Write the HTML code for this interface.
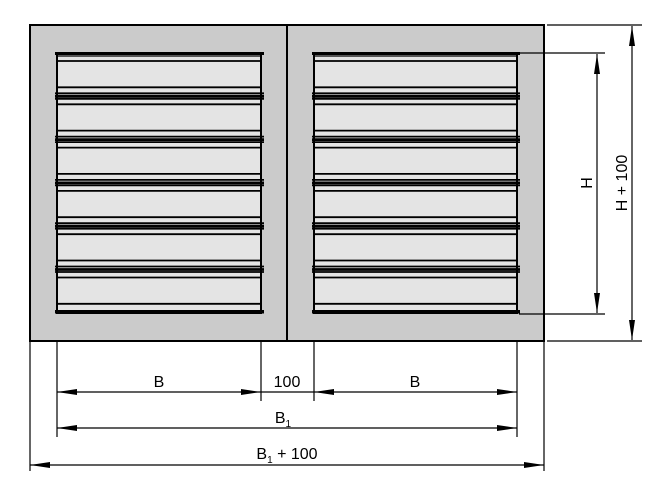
<!DOCTYPE html>
<html><head><meta charset="utf-8"><style>html,body{margin:0;padding:0;background:#fff}svg{display:block}text{font-family:"Liberation Sans",Arial,sans-serif;font-size:16px;fill:#000}</style></head>
<body>
<svg id="s" width="659" height="497" viewBox="0 0 659 497">
<defs><marker id="a" viewBox="0 0 20 6" refX="20" refY="3" markerWidth="20" markerHeight="6" markerUnits="userSpaceOnUse" orient="auto-start-reverse"><path d="M0,0L20,3L0,6z" fill="#000"/></marker></defs>
<rect x="30" y="25" width="514" height="316" fill="#cbcbcb" stroke="#000" stroke-width="2"/>
<line x1="287" y1="25" x2="287" y2="341" stroke="#000" stroke-width="2"/>
<rect x="57" y="53" width="204" height="260" fill="#e4e4e4" stroke="#000" stroke-width="2"/>
<rect x="314" y="53" width="203" height="260" fill="#e4e4e4" stroke="#000" stroke-width="2"/>
<g id="sl" stroke="#000"></g>
<g stroke="#000" stroke-width="1.2" fill="none">
<line x1="519" y1="53" x2="605" y2="53"/><line x1="519" y1="314" x2="605" y2="314"/>
<line x1="547" y1="25" x2="642" y2="25"/><line x1="547" y1="341" x2="642" y2="341"/>
<line x1="597" y1="54" x2="597" y2="313" marker-start="url(#a)" marker-end="url(#a)"/>
<line x1="632" y1="26" x2="632" y2="340" marker-start="url(#a)" marker-end="url(#a)"/>
<line x1="57" y1="342" x2="57" y2="437"/><line x1="517" y1="342" x2="517" y2="437"/>
<line x1="261" y1="342" x2="261" y2="401"/><line x1="314" y1="342" x2="314" y2="401"/>
<line x1="30" y1="342" x2="30" y2="471"/><line x1="544" y1="342" x2="544" y2="471"/>
<line x1="57" y1="392" x2="261" y2="392" marker-start="url(#a)" marker-end="url(#a)"/>
<line x1="261" y1="392" x2="314" y2="392"/>
<line x1="314" y1="392" x2="517" y2="392" marker-start="url(#a)" marker-end="url(#a)"/>
<line x1="57" y1="428" x2="517" y2="428" marker-start="url(#a)" marker-end="url(#a)"/>
<line x1="30" y1="465" x2="544" y2="465" marker-start="url(#a)" marker-end="url(#a)"/>
</g>
<text x="159" y="387" text-anchor="middle">B</text>
<text x="287" y="387" text-anchor="middle">100</text>
<text x="415" y="387" text-anchor="middle">B</text>
<text x="283" y="423" text-anchor="middle">B<tspan font-size="10" dy="4">1</tspan></text>
<text x="287" y="459" text-anchor="middle">B<tspan font-size="10" dy="4">1</tspan><tspan dy="-4"> + 100</tspan></text>
<text transform="translate(592,183) rotate(-90)" text-anchor="middle">H</text>
<text transform="translate(627,183) rotate(-90)" text-anchor="middle">H + 100</text>
</svg>
<script>
var g=document.getElementById('sl'),ns='http://www.w3.org/2000/svg';
function L(x1,x2,y,w){var l=document.createElementNS(ns,'line');l.setAttribute('x1',x1);l.setAttribute('x2',x2);l.setAttribute('y1',y);l.setAttribute('y2',y);l.setAttribute('stroke-width',w);g.appendChild(l);}
[[57,261],[314,517]].forEach(function(p){
for(var i=0;i<7;i++){var b=53+i*43.3;
if(i>0){L(p[0],p[1],b-9,1.8);}
if(i<6){L(p[0],p[1],b+8,1.8);}
if(i==0){L(p[0]-2,p[1]+3,b+0.5,3);L(p[0],p[1],b+3,1.2);}
else if(i==6){L(p[0]-2,p[1]+3,b-1,3.5);}
else{L(p[0]-2,p[1]+3,b-3,1.8);L(p[0]-2,p[1]+3,b,2.8);L(p[0]-2,p[1]+3,b+2.5,1.8);}
}});
</script>
</body></html>
